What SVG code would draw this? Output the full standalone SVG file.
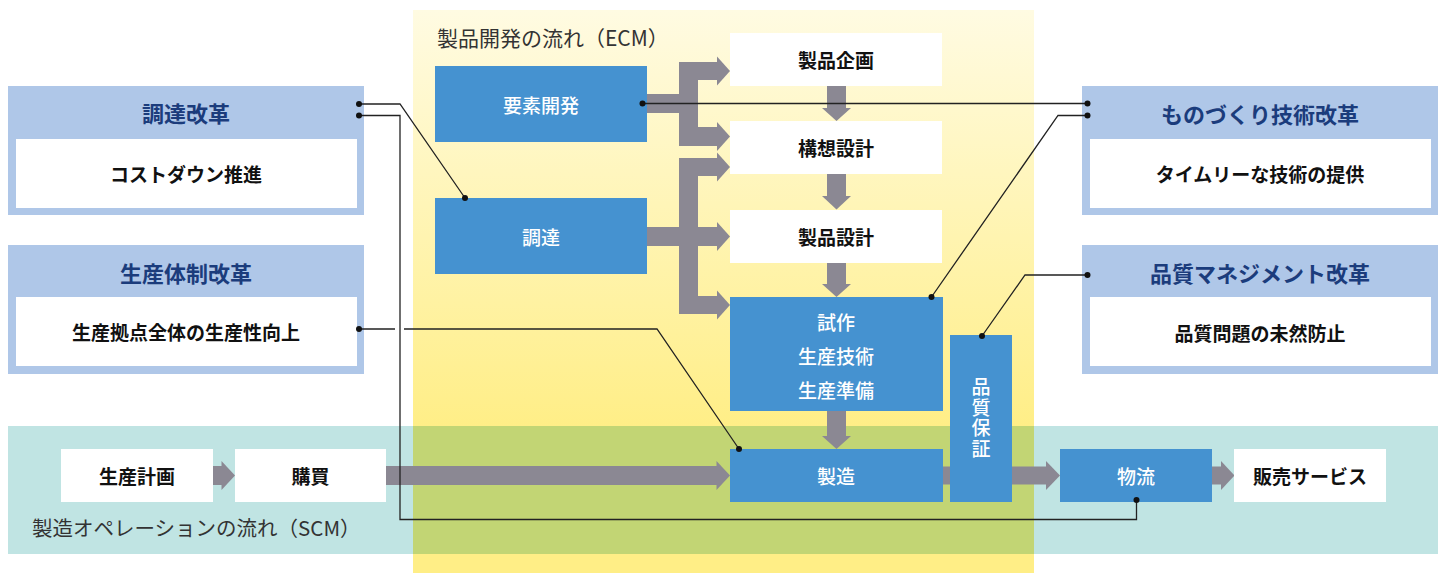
<svg xmlns="http://www.w3.org/2000/svg" width="1440" height="573" viewBox="0 0 1440 573">
<defs>
<linearGradient id="ecmGrad" x1="0" y1="10" x2="0" y2="430" gradientUnits="userSpaceOnUse">
<stop offset="0" stop-color="#FFFBE2"/>
<stop offset="1" stop-color="#FFEE86"/>
</linearGradient>
<style>
text{font-family:"Noto Sans CJK JP","Noto Sans",sans-serif;dominant-baseline:central;text-anchor:middle}
.panel-title{font-size:21px;fill:#333;text-anchor:start}
.rf{fill:#AFC7E8}
.rin{fill:#fff}
.rtitle{font-size:22px;font-weight:700;fill:#1B3C7C}
.rtext{font-size:19px;font-weight:700;fill:#111}
.blue{fill:#4592D0}
.white{fill:#fff}
.wl{font-size:19px;fill:#fff;font-weight:500}
.bl{font-size:19px;fill:#111;font-weight:700}
.vert{writing-mode:vertical-rl;letter-spacing:1.5px}
.arr{fill:#8B8893}
.conn{fill:none;stroke:#222;stroke-width:1.3}
.dot{fill:#111}
</style>
</defs>
<rect width="1440" height="573" fill="#fff"/>
<!-- panels -->
<g id="scm-panel">
<rect x="8" y="426" width="1430" height="128" fill="#C0E4E3"/>
</g>
<g id="ecm-panel">
<rect x="413" y="10" width="621" height="563" fill="url(#ecmGrad)"/>
<rect x="413" y="426" width="621" height="128" fill="#C2D574"/>
<text class="panel-title" x="437" y="37">製品開発の流れ（ECM）</text>
</g>
<text class="panel-title" x="32" y="527" style="font-size:20.5px">製造オペレーションの流れ（SCM）</text>
<!-- reform boxes -->
<g id="reform-procurement">
<rect class="rf" x="8" y="86" width="356" height="129"/>
<rect class="rin" x="16" y="139" width="341" height="69"/>
<text class="rtitle" x="186" y="112">調達改革</text>
<text class="rtext" x="186" y="173">コストダウン推進</text>
</g>
<g id="reform-production">
<rect class="rf" x="8" y="245" width="356" height="129"/>
<rect class="rin" x="16" y="297" width="341" height="69"/>
<text class="rtitle" x="186" y="272">生産体制改革</text>
<text class="rtext" x="186" y="331">生産拠点全体の生産性向上</text>
</g>
<g id="reform-monozukuri">
<rect class="rf" x="1082" y="86" width="356" height="129"/>
<rect class="rin" x="1090" y="139" width="341" height="69"/>
<text class="rtitle" x="1260" y="113">ものづくり技術改革</text>
<text class="rtext" x="1260" y="173">タイムリーな技術の提供</text>
</g>
<g id="reform-quality">
<rect class="rf" x="1082" y="245" width="356" height="129"/>
<rect class="rin" x="1090" y="297" width="341" height="69"/>
<text class="rtitle" x="1260" y="272">品質マネジメント改革</text>
<text class="rtext" x="1260" y="332">品質問題の未然防止</text>
</g>
<!-- flow arrows -->
<g id="flow-arrows">
<rect class="arr" x="646" y="94" width="34" height="19"/>
<rect class="arr" x="679" y="62" width="19" height="84"/>
<rect class="arr" x="697" y="62" width="21" height="18"/>
<polygon class="arr" points="717,56.5 730,71 717,85.5"/>
<rect class="arr" x="697" y="127" width="21" height="19"/>
<polygon class="arr" points="717,122 730,136.5 717,151"/>
<rect class="arr" x="679" y="158" width="19" height="156"/>
<rect class="arr" x="697" y="158" width="21" height="18"/>
<polygon class="arr" points="717,152.5 730,167 717,181.5"/>
<rect class="arr" x="646" y="227" width="34" height="19"/>
<rect class="arr" x="697" y="227" width="21" height="19"/>
<polygon class="arr" points="717,222 730,236.5 717,251"/>
<rect class="arr" x="697" y="296" width="21" height="18"/>
<polygon class="arr" points="717,290.5 730,305 717,319.5"/>
<rect class="arr" x="827" y="85" width="19" height="23"/>
<polygon class="arr" points="822,108 851,108 836.5,121"/>
<rect class="arr" x="827" y="173" width="19" height="23"/>
<polygon class="arr" points="822,196 851,196 836.5,209.5"/>
<rect class="arr" x="827" y="262" width="19" height="22"/>
<polygon class="arr" points="822,284 851,284 836.5,297"/>
<rect class="arr" x="827" y="410" width="19" height="26"/>
<polygon class="arr" points="822,436 851,436 836.5,449"/>
<rect class="arr" x="212" y="466" width="10" height="19"/>
<polygon class="arr" points="221.5,461 235,475.5 221.5,490"/>
<rect class="arr" x="386" y="466" width="331" height="19"/>
<polygon class="arr" points="716.5,461 730,475.5 716.5,490"/>
<rect class="arr" x="942" y="466.5" width="105" height="18"/>
<polygon class="arr" points="1046,461 1060,475.5 1046,490"/>
<rect class="arr" x="1211" y="466.5" width="11" height="18"/>
<polygon class="arr" points="1221,461 1234.5,475.5 1221,490"/>
</g>
<!-- ECM nodes -->
<g id="node-youso"><rect class="blue" x="435" y="66" width="212" height="76"/><text class="wl" x="541" y="104">要素開発</text></g>
<g id="node-chotatsu"><rect class="blue" x="435" y="198" width="212" height="76"/><text class="wl" x="541" y="236">調達</text></g>
<g id="node-kikaku"><rect class="white" x="730" y="33" width="212" height="53"/><text class="bl" x="836" y="59.5">製品企画</text></g>
<g id="node-kousou"><rect class="white" x="730" y="121" width="212" height="53"/><text class="bl" x="836" y="147.5">構想設計</text></g>
<g id="node-sekkei"><rect class="white" x="730" y="210" width="212" height="53"/><text class="bl" x="836" y="236.5">製品設計</text></g>
<g id="node-shisaku"><rect class="blue" x="730" y="297" width="213" height="114"/>
<text class="wl" x="836" y="321">試作</text>
<text class="wl" x="836" y="355">生産技術</text>
<text class="wl" x="836" y="389">生産準備</text></g>
<g id="node-seizou"><rect class="blue" x="730" y="449" width="213" height="53"/><text class="wl" x="836" y="475.5">製造</text></g>
<g id="node-hinshitsu"><rect class="blue" x="950" y="335" width="62" height="167"/>
<text class="wl vert" x="981" y="418.5">品質保証</text></g>
<!-- SCM nodes -->
<g id="node-keikaku"><rect class="white" x="61" y="449" width="152" height="53"/><text class="bl" x="137" y="475.5">生産計画</text></g>
<g id="node-kounyu"><rect class="white" x="235" y="449" width="151" height="53"/><text class="bl" x="310.5" y="475.5">購買</text></g>
<g id="node-butsuryu"><rect class="blue" x="1060" y="449" width="152" height="53"/><text class="wl" x="1136" y="475.5">物流</text></g>
<g id="node-hanbai"><rect class="white" x="1234" y="449" width="152" height="53"/><text class="bl" x="1310" y="475.5">販売サービス</text></g>
<!-- connectors -->
<g id="connectors">
<path class="conn" d="M359 104 H400 L465 198"/>
<path class="conn" d="M359 115.5 H400 V519.5 H1136.5 V500"/>
<path class="conn" d="M359 329 H395 M404 329 H657 L739 449"/>
<path class="conn" d="M642.5 103.5 H1087.5"/>
<path class="conn" d="M1087.5 115.5 H1058 L931.5 297"/>
<path class="conn" d="M1087.5 275 H1025 L982 336"/>
<circle class="dot" cx="359" cy="104" r="3"/>
<circle class="dot" cx="359" cy="115.5" r="3"/>
<circle class="dot" cx="465" cy="198" r="3"/>
<circle class="dot" cx="1136.5" cy="500" r="3"/>
<circle class="dot" cx="359" cy="329" r="3"/>
<circle class="dot" cx="739" cy="449" r="3"/>
<circle class="dot" cx="642.5" cy="103.5" r="3"/>
<circle class="dot" cx="1087.5" cy="103.5" r="3"/>
<circle class="dot" cx="1087.5" cy="115.5" r="3"/>
<circle class="dot" cx="931.5" cy="297" r="3"/>
<circle class="dot" cx="1087.5" cy="275" r="3"/>
<circle class="dot" cx="982" cy="336" r="3"/>
</g>
</svg>
